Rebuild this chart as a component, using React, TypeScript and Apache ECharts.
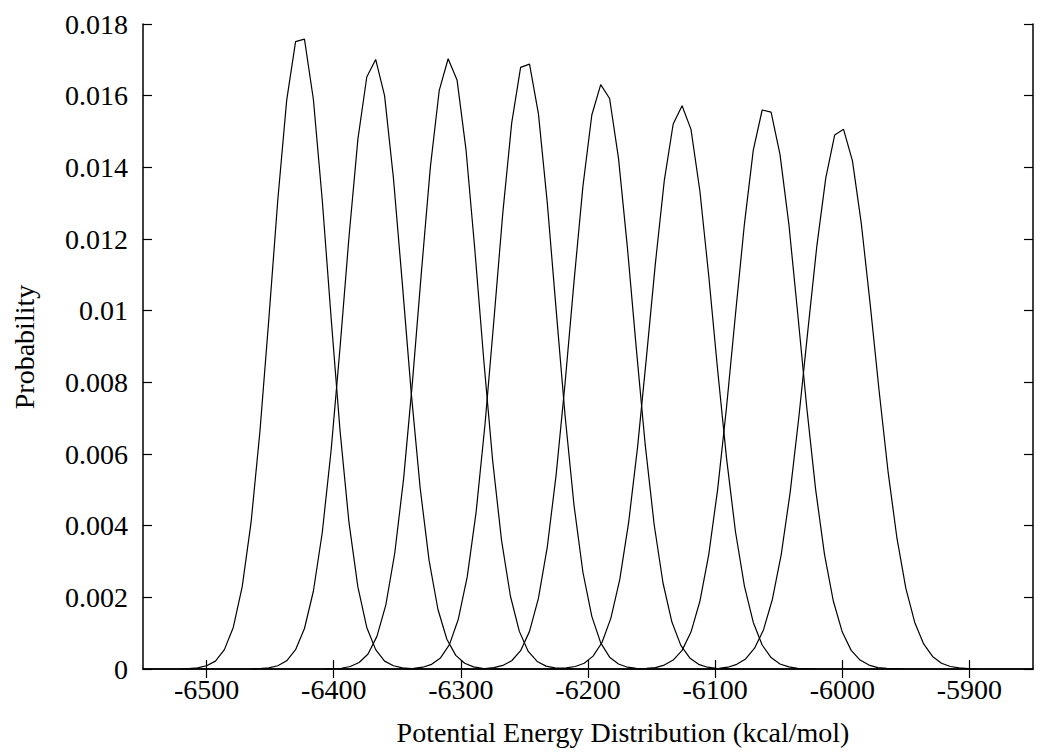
import React, { useEffect, useRef } from "react";
import * as echarts from "echarts";

const xTicks = [-6500, -6400, -6300, -6200, -6100, -6000, -5900];
const yTicks = [0, 0.002, 0.004, 0.006, 0.008, 0.01, 0.012, 0.014, 0.016, 0.018];
const xAxisTitle = "Potential Energy Distribution (kcal/mol)";
const yAxisTitle = "Probability";

const curve1: [number, number][] = [
  [-6521, 0], [-6514, 0.00001], [-6507, 0.00003], [-6500, 0.00009], [-6493, 0.00022],
  [-6486, 0.00054], [-6479, 0.00116], [-6472, 0.00229], [-6465, 0.00409], [-6458, 0.00664],
  [-6451, 0.00978], [-6444, 0.01308], [-6437, 0.01587], [-6430, 0.01751], [-6423, 0.01758],
  [-6416, 0.0159], [-6409, 0.01308], [-6402, 0.00978], [-6395, 0.00664], [-6388, 0.00409],
  [-6381, 0.00229], [-6374, 0.00116], [-6367, 0.00054], [-6360, 0.00022], [-6353, 0.00009],
  [-6346, 0.00003], [-6339, 0.00001], [-6332, 0],
];
const curve2: [number, number][] = [
  [-6465, 0], [-6458, 0.00001], [-6451, 0.00003], [-6444, 0.00009], [-6437, 0.00023],
  [-6430, 0.00054], [-6423, 0.00113], [-6416, 0.00217], [-6409, 0.00381], [-6402, 0.00612],
  [-6395, 0.00898], [-6388, 0.01205], [-6381, 0.01478], [-6374, 0.01652], [-6367, 0.01701],
  [-6360, 0.016], [-6353, 0.01369], [-6346, 0.01074], [-6339, 0.0077], [-6332, 0.00505],
  [-6325, 0.00303], [-6318, 0.00166], [-6311, 0.00083], [-6304, 0.00038], [-6297, 0.00016],
  [-6290, 0.00006], [-6283, 0.00002], [-6276, 0.00001], [-6269, 0],
];
const curve3: [number, number][] = [
  [-6408, 0], [-6401, 0.00001], [-6394, 0.00002], [-6387, 0.00007], [-6380, 0.00018],
  [-6373, 0.00042], [-6366, 0.00091], [-6359, 0.00179], [-6352, 0.00323], [-6345, 0.00532],
  [-6338, 0.00804], [-6331, 0.01109], [-6324, 0.014], [-6317, 0.01615], [-6310, 0.01703],
  [-6303, 0.01644], [-6296, 0.01451], [-6289, 0.0117], [-6282, 0.00863], [-6275, 0.00582],
  [-6268, 0.00359], [-6261, 0.00203], [-6254, 0.00105], [-6247, 0.00049], [-6240, 0.00021],
  [-6233, 0.00008], [-6226, 0.00003], [-6219, 0.00001], [-6212, 0],
];
const curve4: [number, number][] = [
  [-6344, 0], [-6337, 0.00002], [-6330, 0.00005], [-6323, 0.00013], [-6316, 0.00031],
  [-6309, 0.00068], [-6302, 0.00139], [-6295, 0.00257], [-6288, 0.00438], [-6281, 0.00683],
  [-6274, 0.00974], [-6267, 0.01273], [-6260, 0.01524], [-6253, 0.01679], [-6246, 0.01688],
  [-6239, 0.0155], [-6232, 0.013], [-6225, 0.01], [-6218, 0.00706], [-6211, 0.00457],
  [-6204, 0.0027], [-6197, 0.00147], [-6190, 0.00073], [-6183, 0.00033], [-6176, 0.00014],
  [-6169, 0.00005], [-6162, 0.00002], [-6155, 0.00001], [-6148, 0],
];
const curve5: [number, number][] = [
  [-6288, 0], [-6281, 0.00001], [-6274, 0.00004], [-6267, 0.0001], [-6260, 0.00023],
  [-6253, 0.00051], [-6246, 0.00105], [-6239, 0.00197], [-6232, 0.00341], [-6225, 0.00544],
  [-6218, 0.00799], [-6211, 0.01081], [-6204, 0.01347], [-6197, 0.01546], [-6190, 0.01631],
  [-6183, 0.01592], [-6176, 0.01425], [-6169, 0.01176], [-6162, 0.00894], [-6155, 0.00626],
  [-6148, 0.00404], [-6141, 0.0024], [-6134, 0.00131], [-6127, 0.00066], [-6120, 0.00031],
  [-6113, 0.00013], [-6106, 0.00005], [-6099, 0.00002], [-6092, 0.00001], [-6085, 0],
];
const curve6: [number, number][] = [
  [-6231, 0], [-6224, 0.00001], [-6217, 0.00003], [-6210, 0.00007], [-6203, 0.00016],
  [-6196, 0.00036], [-6189, 0.00074], [-6182, 0.00142], [-6175, 0.0025], [-6168, 0.0041],
  [-6161, 0.0062], [-6154, 0.00871], [-6147, 0.01132], [-6140, 0.01363], [-6133, 0.01521],
  [-6126, 0.01572], [-6119, 0.01506], [-6112, 0.01334], [-6105, 0.01096], [-6098, 0.00833],
  [-6091, 0.00587], [-6084, 0.00383], [-6077, 0.00232], [-6070, 0.0013], [-6063, 0.00067],
  [-6056, 0.00032], [-6049, 0.00014], [-6042, 0.00006], [-6035, 0.00002], [-6028, 0.00001],
  [-6021, 0],
];
const curve7: [number, number][] = [
  [-6168, 0], [-6161, 0.00001], [-6154, 0.00002], [-6147, 0.00004], [-6140, 0.00011],
  [-6133, 0.00025], [-6126, 0.00052], [-6119, 0.00103], [-6112, 0.00189], [-6105, 0.0032],
  [-6098, 0.00502], [-6091, 0.00732], [-6084, 0.0099], [-6077, 0.01241], [-6070, 0.01448],
  [-6063, 0.0156], [-6056, 0.01554], [-6049, 0.01436], [-6042, 0.01241], [-6035, 0.0099],
  [-6028, 0.00732], [-6021, 0.00502], [-6014, 0.0032], [-6007, 0.00189], [-6000, 0.00103],
  [-5993, 0.00052], [-5986, 0.00025], [-5979, 0.00011], [-5972, 0.00004], [-5965, 0.00002],
  [-5958, 0.00001], [-5951, 0],
];
const curve8: [number, number][] = [
  [-6104, 0], [-6097, 0.00002], [-6090, 0.00005], [-6083, 0.00013], [-6076, 0.00028],
  [-6069, 0.00058], [-6062, 0.00109], [-6055, 0.00194], [-6048, 0.0032], [-6041, 0.00493],
  [-6034, 0.00708], [-6027, 0.00947], [-6020, 0.01181], [-6013, 0.0137], [-6006, 0.0149],
  [-5999, 0.01506], [-5992, 0.01418], [-5985, 0.01242], [-5978, 0.01016], [-5971, 0.00775],
  [-5964, 0.00551], [-5957, 0.00365], [-5950, 0.00225], [-5943, 0.0013], [-5936, 0.0007],
  [-5929, 0.00035], [-5922, 0.00016], [-5915, 0.00007], [-5908, 0.00003], [-5901, 0.00001],
  [-5894, 0],
];

const curves = [curve1, curve2, curve3, curve4, curve5, curve6, curve7, curve8];

const FONT = "'Liberation Serif', 'Times New Roman', serif";

export default function App() {
  const ref = useRef<HTMLDivElement>(null);

  useEffect(() => {
    document.body.style.margin = "0";
    if (!ref.current) return;
    const chart = echarts.init(ref.current, null, { renderer: "svg" });

    const frameLine = { show: true, lineStyle: { color: "#000", width: 1.5 } };
    const tickStyle = { color: "#000", width: 1.2 };

    const option: any = {
      animation: false,
      backgroundColor: "#fff",
      grid: { left: 143, right: 17, top: 24, bottom: 87, containLabel: false },
      xAxis: [
        {
          type: "value",
          min: -6550,
          max: -5850,
          position: "bottom",
          axisLine: frameLine,
          axisTick: { show: true, inside: true, length: 9, customValues: xTicks, lineStyle: tickStyle },
          axisLabel: {
            show: true,
            customValues: xTicks,
            formatter: (v: number) => String(v),
            fontFamily: FONT,
            fontSize: 28,
            color: "#000",
            margin: 6,
          },
          splitLine: { show: false },
        },
        {
          type: "value",
          min: -6550,
          max: -5850,
          position: "top",
          axisLine: frameLine,
          axisTick: { show: true, inside: true, length: 9, customValues: xTicks, lineStyle: tickStyle },
          axisLabel: { show: false },
          splitLine: { show: false },
        },
      ],
      yAxis: [
        {
          type: "value",
          min: 0,
          max: 0.018,
          position: "left",
          axisLine: frameLine,
          axisTick: { show: true, inside: true, length: 9, customValues: yTicks, lineStyle: tickStyle },
          axisLabel: {
            show: true,
            customValues: yTicks,
            formatter: (v: number) => String(v),
            fontFamily: FONT,
            fontSize: 28,
            color: "#000",
            margin: 15,
          },
          splitLine: { show: false },
        },
        {
          type: "value",
          min: 0,
          max: 0.018,
          position: "right",
          axisLine: frameLine,
          axisTick: { show: true, inside: true, length: 9, customValues: yTicks, lineStyle: tickStyle },
          axisLabel: { show: false },
          splitLine: { show: false },
        },
      ],
      graphic: [
        {
          type: "text",
          left: null,
          x: 623,
          y: 732,
          style: {
            text: xAxisTitle,
            font: `28px ${FONT}`,
            fill: "#000",
            textAlign: "center",
            textVerticalAlign: "middle",
          },
        },
        {
          type: "text",
          x: 24,
          y: 347,
          rotation: Math.PI / 2,
          style: {
            text: yAxisTitle,
            font: `28px ${FONT}`,
            fill: "#000",
            textAlign: "center",
            textVerticalAlign: "middle",
          },
        },
      ],
      series: curves.map((c, i) => ({
        name: `T${i + 1}`,
        type: "line",
        xAxisIndex: 0,
        yAxisIndex: 0,
        data: c,
        showSymbol: false,
        symbol: "none",
        smooth: false,
        lineStyle: { color: "#000", width: 1.2 },
        z: 3,
      })),
    };

    chart.setOption(option);
    return () => chart.dispose();
  }, []);

  return <div ref={ref} style={{ width: 1050, height: 756 }} />;
}
